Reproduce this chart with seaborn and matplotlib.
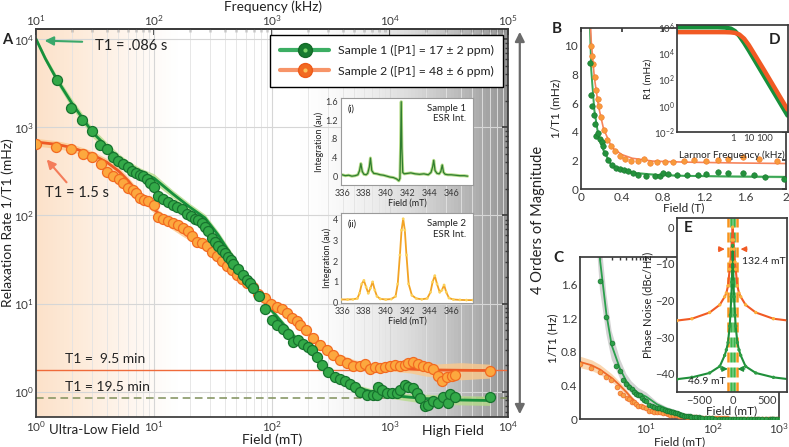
import numpy as np
import pandas as pd
import matplotlib
matplotlib.use("Agg")
import matplotlib.pyplot as plt
import seaborn as sns
from matplotlib.lines import Line2D
from matplotlib.legend_handler import HandlerTuple
from matplotlib.ticker import FixedLocator, NullFormatter, LogLocator, FixedFormatter

# ---------------- data ----------------
# Sample 1 (green) relaxation rate, field (mT) vs 1/T1 (mHz)
g_field = [1.5, 1.98, 2.47, 3.0, 3.49, 4.02, 4.52, 4.99, 5.5, 5.98, 6.47, 7.04, 7.6, 8.1, 8.67, 9.25,
           10.0, 10.9, 12.0, 13.2, 14.4, 15.6, 17.2, 18.9, 20.5, 22.2, 23.7, 25.3, 27.0, 28.9, 30.8,
           32.9, 35.0, 37.4, 40.0, 42.7, 45.0, 47.0, 51.8, 56.4, 61.8, 65.0, 69.5, 78.1, 87.3, 99.3,
           110, 125, 137, 150, 167, 184, 203, 217, 239, 264, 300, 342, 377, 415, 458, 505, 557, 634,
           722, 771, 796, 850, 937, 1033, 1140, 1216, 1340, 1430, 1577, 1683, 1796, 1981, 2114, 2330,
           2570, 2830, 3120, 3220, 3550, 7030]
g_rate = [3440, 1645, 1210, 908, 630, 573, 460, 414, 380, 354, 318, 300, 287, 280, 256, 231,
          212, 166, 152, 141, 133, 126, 117, 105, 98, 92, 88, 83, 75, 66, 56,
          50, 45, 41, 37.7, 34, 31, 28.5, 24.8, 21.4, 18.4, 17.0, 15.1, 12.3, 8.8, 6.6,
          5.8, 5.15, 4.56, 3.73, 3.9, 3.5, 3.27, 3.0, 2.5, 2.03, 1.70, 1.47, 1.41, 1.34, 1.23, 1.13, 1.01, 0.92,
          0.92, 0.92, 1.13, 1.05, 0.97, 0.97, 0.97, 1.05, 1.2, 1.15, 1.1, 0.97, 0.85, 0.69, 0.71, 0.78,
          0.74, 0.88, 0.74, 0.95, 0.88, 0.87]
# Sample 2 (orange)
o_field = [1.0, 1.48, 1.98, 2.48, 2.96, 3.56, 3.97, 4.52, 5.09, 5.5, 6.07, 6.6, 7.04, 7.6, 8.2, 8.96,
           10.0, 10.9, 12.0, 13.2, 14.5, 16.1, 17.7, 19.5, 21.0, 23.0, 25.3, 28.0, 30.8, 34.0, 37.4,
           41.3, 45.5, 50.2, 55.3, 61.0, 69.5, 76.5, 87.0, 99.0, 110, 121, 133, 147, 163, 172, 195,
           223, 254, 290, 330, 377, 428, 490, 557, 614, 675, 744, 818, 900, 1000, 1100, 1216, 1340,
           1430, 1577, 1740, 1910, 2114, 2330, 2570, 2760, 3040, 3340, 3550, 7030]
o_rate = [650, 603, 562, 502, 460, 380, 311, 280, 256, 235, 203, 197, 181, 159, 149, 145,
          133, 96, 91, 86, 83, 78.5, 73, 66, 58, 50, 49, 45, 39, 34.5, 30.3,
          26.5, 23.9, 21.4, 19.0, 17.2, 15.5, 13.0, 11.6, 10.0, 9.3, 8.7, 7.8, 6.9, 6.3, 5.8, 5.0,
          4.1, 3.42, 3.0, 2.63, 2.31, 2.12, 1.97, 1.97, 2.08, 1.81, 1.91, 1.86, 1.91, 1.97, 2.03, 1.97, 2.03,
          2.12, 2.21, 2.08, 1.97, 1.91, 1.81, 1.52, 1.34, 1.47, 1.52, 1.56, 1.75]
# model fits
gfit_field = [1, 1.2, 1.5, 2, 2.5, 3, 4, 5, 6, 7.6, 10, 14.5, 20, 27, 35, 50, 70, 100, 130, 170,
              220, 300, 400, 550, 750, 1000, 1500, 2000, 4000, 7000]
gfit_rate = [10000, 6000, 3500, 1900, 1250, 880, 600, 450, 375, 310, 265, 175, 125, 94, 60, 29, 15.5,
             8.3, 5.5, 3.7, 2.7, 1.6, 1.3, 1.1, 0.98, 0.92, 0.87, 0.84, 0.81, 0.80]
g_band_rel = [0.05, 0.08, 0.1, 0.12, 0.12, 0.12, 0.12, 0.12, 0.12, 0.12, 0.12, 0.1, 0.1, 0.1, 0.1,
              0.1, 0.08, 0.08, 0.08, 0.08, 0.08, 0.08, 0.08, 0.08, 0.08, 0.08, 0.1, 0.12, 0.12, 0.12]
ofit_field = [1, 1.5, 2, 3, 4, 5, 6, 7.6, 10, 13.7, 17.7, 23, 30, 40, 50, 70, 100, 130, 170, 220,
              300, 400, 500, 700, 1000, 1500, 2000, 4000, 7000]
ofit_rate = [680, 640, 590, 490, 400, 320, 250, 170, 118, 80, 64, 52, 40, 28, 22, 15, 10.3, 7.8, 5.8,
             4.2, 2.9, 2.4, 2.15, 1.95, 1.88, 1.82, 1.78, 1.76, 1.75]
o_band_rel = [0.1, 0.1, 0.1, 0.1, 0.1, 0.1, 0.1, 0.1, 0.1, 0.1, 0.1, 0.1, 0.1, 0.1, 0.1, 0.1, 0.1,
              0.1, 0.1, 0.1, 0.08, 0.08, 0.08, 0.08, 0.08, 0.1, 0.15, 0.22, 0.18]
T1_sample2_min = 9.5
T1_sample1_min = 19.5
legend_labels = ["Sample 1 ([P1] = 17 ± 2 ppm)", "Sample 2 ([P1] = 48 ± 6 ppm)"]

# panel D : R1 vs Larmor frequency
freq_D = [2.5e-4, 0.1, 0.3, 0.7, 1.3, 2.5, 5, 10, 100, 3000]
R1_s1 = [9.5e5, 9.5e5, 9.0e5, 7.4e5, 4.75e5, 2.0e5, 6.0e4, 1.6e4, 160, 0.18]
R1_s2 = [4.0e5, 4.0e5, 3.97e5, 3.84e5, 3.5e5, 2.6e5, 1.27e5, 4.1e4, 460, 0.51]

# panel E : phase noise
E_field = [-820, -600, -340, -190, -118, -93, -69, -44, -34, -20, -12, 0,
           12, 20, 34, 44, 69, 93, 118, 190, 340, 600, 820]
E_s2 = [-25.5, -25.0, -23.3, -21.2, -19.0, -18.0, -16.0, -11.5, -9.5, -6.0, -3.5, 0.0,
        -3.5, -6.0, -9.5, -11.5, -16.0, -18.0, -19.0, -21.2, -23.3, -25.0, -25.5]
E_s1 = [-41.5, -41.0, -39.8, -38.0, -35.0, -33.5, -31.5, -27.0, -24.0, -19.0, -15.0, -5.0,
        -15.0, -19.0, -24.0, -27.0, -31.5, -33.5, -35.0, -38.0, -39.8, -41.0, -41.5]
E_width_s2 = 132.4
E_width_s1 = 46.9

# ESR insets
esr1_f = [336.0, 336.3, 336.6, 336.9, 337.2, 337.45, 337.6, 337.72, 337.85, 338.0, 338.2, 338.35,
          338.5, 338.6, 338.72, 338.9, 339.2, 339.5, 339.8, 340.1, 340.4, 340.7, 341.0, 341.2,
          341.3, 341.36, 341.42, 341.48, 341.56, 341.7, 342.0, 342.3, 342.7, 343.1, 343.5, 343.9,
          344.15, 344.3, 344.4, 344.52, 344.7, 344.9, 345.05, 345.18, 345.3, 345.45, 345.7, 346.0,
          346.4, 346.8, 347.2, 347.5]
esr1_i = [0.03, 0.01, 0.02, 0.00, 0.01, 0.03, 0.12, 0.27, 0.10, 0.04, 0.03, 0.06,
          0.2, 0.39, 0.12, 0.06, 0.05, 0.03, 0.02, 0.0, -0.02, -0.03, -0.06, -0.1,
          -0.05, 0.6, 1.6, 0.6, 0.08, 0.05, 0.06, 0.07, 0.05, 0.04, 0.05, 0.03,
          0.08, 0.2, 0.34, 0.12, 0.06, 0.05, 0.1, 0.24, 0.08, 0.04, 0.03, 0.03,
          0.02, 0.01, 0.01, 0.0]
esr2_f = [335.9, 336.5, 337.0, 337.4, 337.6, 337.8, 338.0, 338.2, 338.4, 338.6, 338.8, 339.0, 339.2,
          339.5, 340.0, 340.5, 340.9, 341.1, 341.3, 341.45, 341.6, 341.75, 341.9, 342.1, 342.4, 342.8,
          343.3, 343.8, 344.1, 344.3, 344.5, 344.7, 344.95, 345.15, 345.35, 345.55, 345.8, 346.2,
          346.8, 347.4, 348.0]
esr2_i = [0.15, 0.15, 0.16, 0.2, 0.45, 0.9, 1.07, 0.75, 0.45, 0.7, 1.0, 0.6, 0.3,
          0.18, 0.15, 0.17, 0.3, 0.9, 2.3, 3.5, 4.05, 3.5, 2.3, 0.9, 0.35, 0.2,
          0.16, 0.2, 0.5, 1.0, 1.3, 0.9, 0.5, 0.6, 0.85, 0.5, 0.22, 0.15,
          0.13, 0.12, 0.12]

# ---------------- style ----------------
sns.set_theme(style="white")
plt.rcParams['font.family'] = ['Lato', 'DejaVu Sans']
plt.rcParams['mathtext.fontset'] = 'custom'
plt.rcParams['mathtext.rm'] = 'Lato'
plt.rcParams['mathtext.it'] = 'Lato:italic'
plt.rcParams['mathtext.bf'] = 'Lato:bold'
plt.rcParams['mathtext.default'] = 'regular'
plt.rcParams['axes.edgecolor'] = '#3a3a3a'
plt.rcParams['text.color'] = '#222222'
plt.rcParams['axes.labelcolor'] = '#222222'
plt.rcParams['xtick.color'] = '#3a3a3a'
plt.rcParams['ytick.color'] = '#3a3a3a'

G_FACE, G_EDGE, G_LINE = '#33a948', '#17732e', '#16903b'
O_FACE, O_EDGE, O_LINE = '#fca83e', '#f26a21', '#ee5a24'

W, H = 789, 447
fig = plt.figure(figsize=(W / 100, H / 100), dpi=100)


def ax_px(l, t, r, b, **kw):
    return fig.add_axes([l / W, 1 - b / H, (r - l) / W, (b - t) / H], **kw)


g_field_a = np.array(g_field); g_rate_a = np.array(g_rate)
o_field_a = np.array(o_field); o_rate_a = np.array(o_rate)
gf = np.array(gfit_field); gr = np.array(gfit_rate); gb = np.array(g_band_rel)
of = np.array(ofit_field); orr = np.array(ofit_rate); ob = np.array(o_band_rel)

# ================= Panel A =================
A = ax_px(36, 29, 508, 417)
A.set_xscale('log'); A.set_yscale('log')
A.set_xlim(1, 1e4); A.set_ylim(0.52, 1.3e4)

n = 60
edges = np.logspace(0, np.log10(16), n + 1)
for i in range(n):
    t = (i + 0.5) / n
    A.axvspan(edges[i], edges[i + 1], color='#fcdcbf', alpha=0.85 * (1 - t) ** 1.1, lw=0, zorder=0)
edges = np.logspace(np.log10(150), 4, n + 1)
for i in range(n):
    t = (i + 0.5) / n
    A.axvspan(edges[i], edges[i + 1], color='#878787', alpha=0.9 * t ** 1.8, lw=0, zorder=0)

A.set_axisbelow(True)
A.grid(True, which='major', color='#d6d6d6', lw=0.8)
A.grid(True, which='minor', axis='x', color='#e3e3e3', lw=0.6)

A.axhline(1000 / (T1_sample2_min * 60), color='#ef6a3a', lw=1.0, zorder=1.5)
A.axhline(1000 / (T1_sample1_min * 60), color='#7f8f5a', lw=1.1, ls=(0, (5, 3)), zorder=1.5)

A.fill_between(gf, gr * (1 - gb), gr * (1 + gb), color='#b5db8a', alpha=0.8, lw=0, zorder=1.8)
A.fill_between(of, orr * (1 - ob), orr * (1 + ob), color='#fbc98c', alpha=0.8, lw=0, zorder=1.8)
sns.lineplot(x=gf, y=gr, ax=A, color=G_LINE, lw=2.0, sort=False, estimator=None, zorder=2)
sns.lineplot(x=of, y=orr, ax=A, color=O_LINE, lw=2.0, sort=False, estimator=None, zorder=2)
sns.scatterplot(x=o_field_a, y=o_rate_a, ax=A, s=52, color=O_FACE, edgecolor=O_EDGE, linewidth=0.9, zorder=3)
sns.scatterplot(x=g_field_a, y=g_rate_a, ax=A, s=52, color=G_FACE, edgecolor=G_EDGE, linewidth=0.9, zorder=3)

A.set_xlim(1, 1e4); A.set_ylim(0.52, 1.3e4)
A.tick_params(which='both', direction='in', right=True, top=False, labelsize=8.5, pad=1.5)
A.tick_params(which='major', length=4); A.tick_params(which='minor', length=2.5)
A.yaxis.set_minor_locator(LogLocator(base=10, subs=np.arange(2, 10)))
A.yaxis.set_minor_formatter(NullFormatter())
A.set_xlabel('Field (mT)', fontsize=10)
A.xaxis.label.set_va('bottom')
A.xaxis.set_label_coords(0.5, (417 - 446) / 388)
A.set_ylabel('Relaxation Rate 1/T1 (mHz)', fontsize=10)
A.yaxis.set_label_coords(-0.047, 0.5)

sec = A.secondary_xaxis('top', functions=(lambda x: x * 10, lambda x: x / 10))
sec.tick_params(which='both', direction='in', labelsize=8.5, pad=1)
sec.tick_params(which='major', length=4); sec.tick_params(which='minor', length=2.5)
fig.text(273 / W, 1 - 6.5 / H, 'Frequency (kHz)', ha='center', va='center', fontsize=9.8)

A.text(1.75, 2.37, 'T1 =  9.5 min', fontsize=10, va='center', ha='left')
A.text(1.75, 1.15, 'T1 = 19.5 min', fontsize=10, va='center', ha='left')
A.text(3.16, 8400, 'T1 = .086 s', fontsize=10.5, va='center', ha='left')
A.text(1.19, 182, 'T1 = 1.5 s', fontsize=10.5, va='center', ha='left')
A.annotate('', xy=(1.12, 9600), xytext=(2.6, 9300),
           arrowprops=dict(arrowstyle='-|>', color='#3aa86b', lw=1.5, mutation_scale=13))
A.annotate('', xy=(1.19, 456), xytext=(1.88, 225),
           arrowprops=dict(arrowstyle='-|>', color='#f47c5a', lw=1.5, mutation_scale=13))

h1 = (Line2D([0], [0], color='#3cae63', lw=3, marker='o', ms=10, mfc='#177a30', mec='#136a28'),
      Line2D([0], [0], ls='none', marker='o', ms=3, mfc='#7ad36b', mec='none'))
h2 = (Line2D([0], [0], color='#f79468', lw=3, marker='o', ms=10, mfc='#f26a21', mec='#ee5a1a'),
      Line2D([0], [0], ls='none', marker='o', ms=3, mfc='#fcc15a', mec='none'))
leg = A.legend([h1, h2], legend_labels, handler_map={tuple: HandlerTuple(ndivide=1, pad=0)},
               loc='upper right', bbox_to_anchor=(1.003, 1.0), fontsize=8.8, frameon=True,
               edgecolor='black', fancybox=False, framealpha=1, handlelength=4.0,
               borderpad=0.8, labelspacing=0.8, handletextpad=0.7)
leg.get_frame().set_linewidth(1.0)

A.annotate('', xy=(1.025, 0.0), xytext=(1.025, 1.0), xycoords='axes fraction',
           arrowprops=dict(arrowstyle='<|-|>', color='#6b6b6b', lw=1.6, mutation_scale=14),
           annotation_clip=False)
fig.text(538 / W, 1 - 220 / H, '4 Orders of Magnitude', rotation=90, ha='center', va='center', fontsize=10.5)
fig.text(49 / W, 1 - 430 / H, 'Ultra-Low Field', ha='left', va='center', fontsize=9.5)
fig.text(422 / W, 1 - 431 / H, 'High Field', ha='left', va='center', fontsize=10)
fig.text(2 / W, 1 - 40 / H, 'A', ha='left', va='center', fontsize=10.5, fontweight='bold')

# ---- ESR insets ----
for k, (pos, xf, yi) in enumerate([((341, 98, 473, 185), esr1_f, esr1_i), ((341, 213, 473, 303), esr2_f, esr2_i)]):
    ins = ax_px(*pos)
    ins.set_facecolor('white')
    if k == 0:
        sns.lineplot(x=xf, y=yi, ax=ins, color='#b6dc8a', lw=2.2, sort=False, estimator=None)
        sns.lineplot(x=xf, y=yi, ax=ins, color='#2f7d2f', lw=0.9, sort=False, estimator=None)
        ins.set_ylim(-0.19, 1.68)
        ins.set_yticks([0, 0.4, 0.8, 1.2, 1.6]); ins.set_yticklabels(['0', '.4', '.8', '1.2', '1.6'])
        ins.text(0.05, 0.93, '(i)', transform=ins.transAxes, fontsize=6.5, va='top')
        ins.text(0.95, 0.93, 'Sample 1\nESR Int.', transform=ins.transAxes, fontsize=7, va='top', ha='right')
    else:
        sns.lineplot(x=xf, y=yi, ax=ins, color='#f2a324', lw=1.3, sort=False, estimator=None)
        sns.scatterplot(x=xf, y=yi, ax=ins, s=4, color='#fcd25a', edgecolor='none', zorder=3)
        ins.set_ylim(-0.02, 4.33)
        ins.set_yticks([0, 1, 2, 3, 4])
        ins.text(0.05, 0.93, '(ii)', transform=ins.transAxes, fontsize=6.5, va='top')
        ins.text(0.95, 0.93, 'Sample 2\nESR Int.', transform=ins.transAxes, fontsize=7, va='top', ha='right')
    ins.set_xlim(335.9, 348)
    ins.set_xticks([336, 338, 340, 342, 344, 346])
    ins.tick_params(labelsize=6.5, direction='in', length=2, pad=2)
    ins.tick_params(axis='x', pad=3)
    ins.set_xlabel('Field (mT)', fontsize=6.5, labelpad=0)
    ins.set_ylabel('Integration (au)', fontsize=6.5, labelpad=1)
    for s in ins.spines.values():
        s.set_color('#9a9a9a'); s.set_linewidth(0.8)

# ================= Panel B =================
B = ax_px(581, 28, 786, 189)
B.fill_between(gf / 1000, gr * (1 - gb), gr * (1 + gb), color='#a9d99a', alpha=0.6, lw=0)
sns.lineplot(x=gf / 1000, y=gr, ax=B, color='#3aa757', lw=1.4, sort=False, estimator=None)
sns.lineplot(x=of / 1000, y=orr, ax=B, color='#f6845c', lw=1.2, sort=False, estimator=None)
sns.scatterplot(x=o_field_a / 1000, y=o_rate_a, ax=B, s=16, color='#f89a3c', edgecolor='#f27b2e', linewidth=0.4, zorder=3)
sns.scatterplot(x=g_field_a / 1000, y=g_rate_a, ax=B, s=16, color='#24913c', edgecolor='#1a7830', linewidth=0.4, zorder=3)
B.set_xlim(0, 2); B.set_ylim(0, 11.25)
B.set_xticks([0, 0.4, 0.8, 1.2, 1.6, 2]); B.set_xticklabels(['0', '0.4', '0.8', '1.2', '1.6', '2'])
B.set_yticks([0, 2, 4, 6, 8, 10])
B.tick_params(labelsize=8.5, direction='in', length=3, pad=2, top=True, right=True)
B.set_xlabel('Field (T)', fontsize=8.5, labelpad=0)
B.set_ylabel('1/T1 (mHz)', fontsize=8.5, labelpad=2)
fig.text(557 / W, 1 - 29 / H, 'B', ha='center', va='center', fontsize=11, fontweight='bold')

# ================= Panel D =================
D = ax_px(677, 25, 788, 132)
D.set_facecolor('white')
D.set_xscale('log'); D.set_yscale('log')
sns.lineplot(x=freq_D, y=R1_s1, ax=D, color='#16903b', lw=3.2, sort=False, estimator=None)
sns.lineplot(x=freq_D, y=R1_s2, ax=D, color='#f15a24', lw=3.2, sort=False, estimator=None)
D.set_xlim(2.5e-4, 3200); D.set_ylim(1e-2, 1.4e6)
D.xaxis.set_major_locator(FixedLocator([1, 10, 100]))
D.xaxis.set_major_formatter(FixedFormatter(['1', '10', '100']))
D.xaxis.set_minor_locator(FixedLocator([]))
D.yaxis.set_major_locator(FixedLocator([1e-2, 1, 1e2, 1e4, 1e6]))
D.yaxis.set_minor_locator(FixedLocator([]))
D.tick_params(labelsize=7, direction='in', length=2.5, pad=1.5)
D.set_xlabel('Larmor Frequency (kHz)', fontsize=7.2, labelpad=1)
D.xaxis.set_label_coords(0.49, -0.17)
D.set_ylabel('R1 (mHz)', fontsize=7.2, labelpad=1)
D.text(0.93, 0.86, 'D', transform=D.transAxes, ha='right', va='center', fontsize=11, fontweight='bold')

# ================= Panel C =================
C = ax_px(580, 257, 779, 419)
C.set_xscale('log')
C.fill_between(gf, gr * (1 - gb * 1.6) / 1000, gr * (1 + gb * 1.6) / 1000, color='#a8a8a8', alpha=0.5, lw=0)
C.fill_between(of, orr * (1 - ob) / 1000, orr * (1 + ob) / 1000, color='#f9c690', alpha=0.7, lw=0)
sns.lineplot(x=gf, y=gr / 1000, ax=C, color='#2ba04d', lw=1.3, sort=False, estimator=None)
sns.lineplot(x=of, y=orr / 1000, ax=C, color='#ef6a2a', lw=1.3, sort=False, estimator=None)
sns.scatterplot(x=o_field_a, y=o_rate_a / 1000, ax=C, s=12, color='#f7a046', edgecolor='#ef6a2a', linewidth=0.5, zorder=3)
sns.scatterplot(x=g_field_a, y=g_rate_a / 1000, ax=C, s=12, color='#2ca048', edgecolor='#17732e', linewidth=0.5, zorder=3)
C.set_xlim(1, 1000); C.set_ylim(0, 1.93)
C.xaxis.set_major_locator(FixedLocator([10, 100, 1000]))
C.xaxis.set_minor_locator(LogLocator(base=10, subs=np.arange(2, 10)))
C.xaxis.set_minor_formatter(NullFormatter())
C.set_yticks([0, 0.4, 0.8, 1.2, 1.6]); C.set_yticklabels(['0', '0.4', '0.8', '1.2', '1.6'])
C.tick_params(which='both', labelsize=8.5, direction='in', pad=2, top=True, right=True)
C.tick_params(which='major', length=3); C.tick_params(which='minor', length=2)
C.set_xlabel('Field (mT)', fontsize=8.5, labelpad=0)
C.set_ylabel('1/T1 (Hz)', fontsize=8.5, labelpad=2)
fig.text(558 / W, 1 - 258 / H, 'C', ha='center', va='center', fontsize=11, fontweight='bold')

# ================= Panel E =================
E = ax_px(677, 218, 787, 392)
E.set_facecolor('white')
for xv in (-E_width_s2 / 2, E_width_s2 / 2):
    E.axvline(xv, color='#f7941d', lw=1.8, ls=(0, (4, 2)), zorder=1)
for xv in (-E_width_s1 / 2, E_width_s1 / 2):
    E.axvline(xv, color='#3cb54a', lw=1.8, ls=(0, (4, 2)), zorder=1)
sns.lineplot(x=E_field, y=E_s2, ax=E, color='#f15a24', lw=1.5, sort=False, estimator=None, zorder=2)
sns.lineplot(x=E_field, y=E_s1, ax=E, color='#1f8f3a', lw=1.5, sort=False, estimator=None, zorder=2)
sns.scatterplot(x=E_field, y=E_s2, ax=E, s=6, color='#fbb03b', edgecolor='none', zorder=3)
sns.scatterplot(x=E_field, y=E_s1, ax=E, s=6, color='#2e9e44', edgecolor='none', zorder=3)
E.set_xlim(-820, 800); E.set_ylim(-45, 2.5)
arr_o = dict(arrowstyle='-|>', color='#f15a24', lw=1.0, mutation_scale=8)
arr_g = dict(arrowstyle='-|>', color='#1f8f3a', lw=1.0, mutation_scale=8)
E.annotate('', xy=(-75, -6), xytext=(-250, -6), arrowprops=arr_o)
E.annotate('', xy=(75, -6), xytext=(250, -6), arrowprops=arr_o)
E.annotate('', xy=(-30, -38.7), xytext=(-220, -38.7), arrowprops=arr_g)
E.annotate('', xy=(30, -38.7), xytext=(220, -38.7), arrowprops=arr_g)
E.text(455, -9.5, f'{E_width_s2} mT', fontsize=7.5, ha='center', va='center')
E.text(-375, -42, f'{E_width_s1} mT', fontsize=7.5, ha='center', va='center')
E.set_xticks([-500, 0, 500]); E.set_yticks([0, -10, -20, -30, -40])
E.tick_params(labelsize=8, direction='in', length=2.5, pad=2)
E.set_xlabel('Field (mT)', fontsize=8.5, labelpad=0)
E.set_ylabel('Phase Noise (dBc/Hz)', fontsize=8, labelpad=1)
E.text(0.1, 0.94, 'E', transform=E.transAxes, ha='center', va='center', fontsize=11, fontweight='bold')
for s in list(D.spines.values()) + list(E.spines.values()):
    s.set_color('#3a3a3a')

fig.savefig('out.png', dpi=100)
